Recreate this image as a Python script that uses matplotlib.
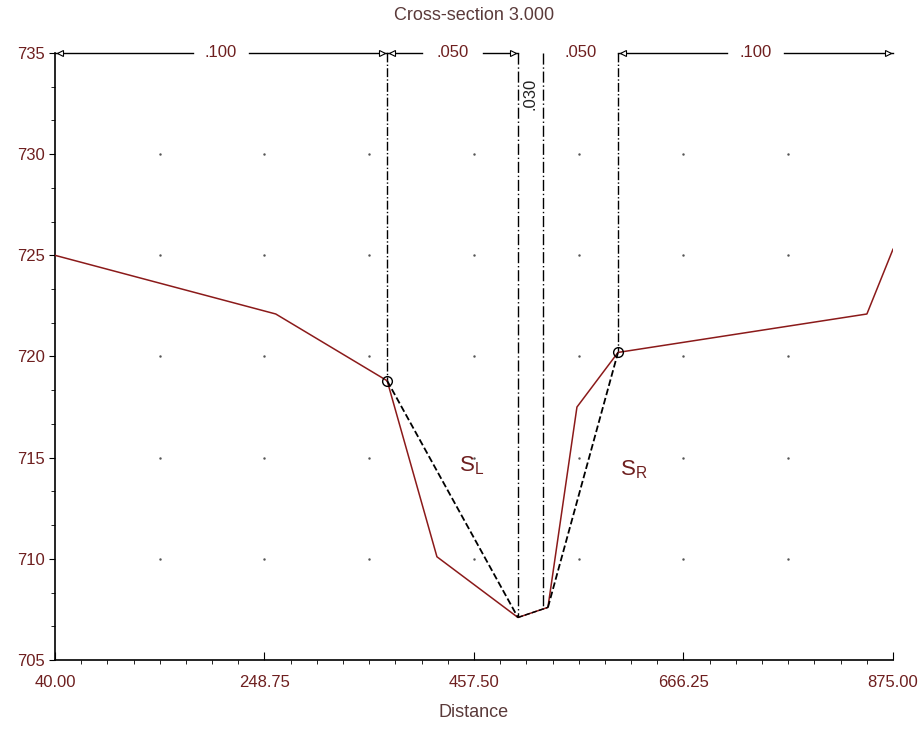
import numpy as np
import matplotlib.pyplot as plt
from matplotlib.ticker import MultipleLocator, AutoMinorLocator

plt.rcParams['font.family'] = ['Liberation Sans', 'DejaVu Sans']

# ground profile of the cross-section
station = [40, 260, 371, 420.6, 501.3, 531.2, 560.1, 601, 849, 875]
elev = [725, 722.1, 718.8, 710.1, 707.1, 707.6, 717.5, 720.2, 722.1, 725.3]

# bank stations and channel limits
bank_x = [371, 601]
bank_y = [718.8, 720.2]
chan_x = [501.3, 526.0]
chan_y = [707.1, 707.5]

# manning n subdivisions
n_edges = [40, 371, 501.3, 526.0, 601, 875]
n_labels = ['.100', '.050', '.030', '.050', '.100']

red = '#8b1a1a'
txt = '#6e1f1f'

fig = plt.figure(figsize=(9.19, 7.29), dpi=100)
ax = fig.add_axes([0.0598, 0.0947, 0.9119, 0.8326])
ax.set_xlim(40, 875)
ax.set_ylim(705, 735)

# grid dots
gx = np.arange(40, 876, 104.375)
gy = np.arange(705, 736, 5)
GX, GY = np.meshgrid(gx[1:-1], gy[1:-1])
ax.plot(GX.ravel(), GY.ravel(), '.', color='#555555', markersize=1.5, zorder=1)

# ground line
ax.plot(station, elev, color=red, lw=1.1, zorder=3)

# lines between bank stations and channel bottom
ax.plot([bank_x[0], chan_x[0]], [bank_y[0], chan_y[0]], '--', color='k', lw=1.3, zorder=4)
ax.plot([station[5], bank_x[1]], [elev[5], bank_y[1]], '--', color='k', lw=1.3, zorder=4)
ax.plot([chan_x[0], station[5]], [chan_y[0], elev[5]], '--', color='k', lw=1.0, zorder=4)

# vertical n-value boundaries
for x, y in zip(bank_x, bank_y):
    ax.plot([x, x], [735, y], color='k', lw=1.0, ls='-.', zorder=2)
for x, y in zip(chan_x, chan_y):
    ax.plot([x, x], [735, y], color='k', lw=1.0, ls=(0, (8, 2, 1, 2)), zorder=2)

ax.plot(bank_x, bank_y, 'o', mfc='none', mec='k', ms=7, mew=1.0, zorder=5)

# dimension line with n values
for i, lab in enumerate(n_labels):
    a, b = n_edges[i], n_edges[i + 1]
    mid = (a + b) / 2
    if lab == '.030':
        ax.text(mid, 733.0, lab, rotation=90, ha='center', va='center', color='#222222',
                fontsize=12, clip_on=False)
        continue
    gap = 28 if (b - a) > 200 else 30
    if (b - a) < 100:
        ax.text(mid, 735, lab, ha='center', va='center', color=txt, fontsize=12,
                bbox=dict(fc='white', ec='none', pad=1), zorder=6, clip_on=False)
        continue
    ax.plot([a, mid - gap], [735, 735], color='k', lw=1.0, clip_on=False)
    ax.plot([mid + gap, b], [735, 735], color='k', lw=1.0, clip_on=False)
    ax.text(mid, 735, lab, ha='center', va='center', color=txt, fontsize=12, clip_on=False)
    ax.plot([a + 5], [735], marker='<', ms=4, mfc='white', mec='k', mew=0.8, clip_on=False)
    ax.plot([b - 5], [735], marker='>', ms=4, mfc='white', mec='k', mew=0.8, clip_on=False)

ax.text(455, 714.6, r'$\mathregular{S_L}$', color=txt, fontsize=16, ha='center', va='center')
ax.text(617, 714.4, r'$\mathregular{S_R}$', color=txt, fontsize=16, ha='center', va='center')

ax.set_title('Cross-section 3.000', color='#5a3a3a', fontsize=13, pad=24)
ax.set_xlabel('Distance', color='#5a3a3a', fontsize=13, labelpad=10)

ax.set_xticks([40, 248.75, 457.5, 666.25, 875])
ax.set_xticklabels(['40.00', '248.75', '457.50', '666.25', '875.00'])
ax.xaxis.set_minor_locator(AutoMinorLocator(8))
ax.yaxis.set_major_locator(MultipleLocator(5))
ax.yaxis.set_minor_locator(AutoMinorLocator(3))
ax.tick_params(colors='k', labelcolor=txt, labelsize=12, direction='in')
ax.tick_params(axis='x', which='major', length=6, pad=11)
ax.tick_params(axis='x', which='minor', length=3)
ax.tick_params(axis='y', which='major', length=4, direction='out')
ax.tick_params(axis='y', which='minor', length=3, direction='out')

for s in ['top', 'right']:
    ax.spines[s].set_visible(False)
for s in ['left', 'bottom']:
    ax.spines[s].set_linewidth(1.2)

fig.savefig('out.png', dpi=100)
